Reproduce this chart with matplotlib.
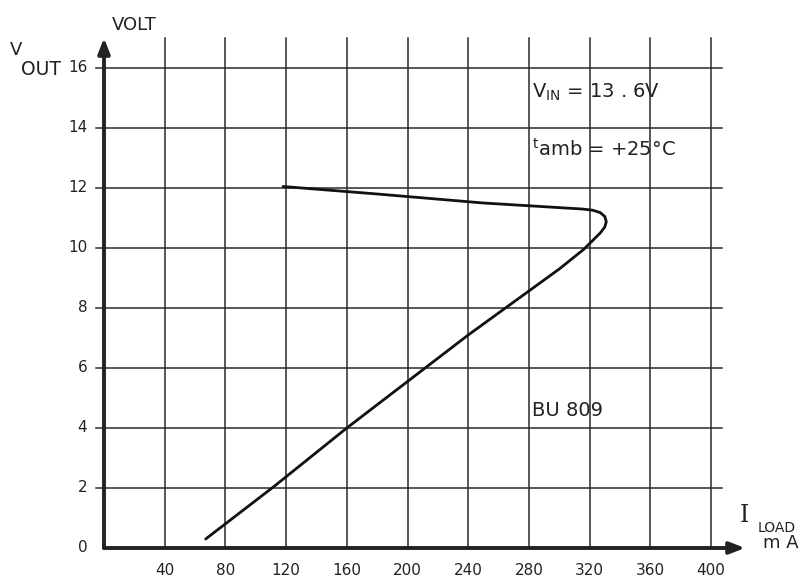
import matplotlib.pyplot as plt
import numpy as np

# load current (mA) and output voltage (V)
i_load = [67, 112, 160, 240, 300, 316, 322, 327, 330, 331, 330, 327, 322, 315, 250, 180, 118]
v_out = [0.3, 2.05, 4.0, 7.1, 9.3, 9.95, 10.25, 10.5, 10.7, 10.88, 11.05, 11.18, 11.26, 11.3, 11.5, 11.8, 12.05]

x_ticks = [40, 80, 120, 160, 200, 240, 280, 320, 360, 400]
y_ticks = [0, 2, 4, 6, 8, 10, 12, 14, 16]

plt.rcParams['font.family'] = ['DejaVu Sans']
fig = plt.figure(figsize=(8.12, 5.84), dpi=100)
W, H = 812, 584
ax = fig.add_axes([104 / W, (H - 548) / H, (745 - 104) / W, (548 - 38) / H])
ax.set_xlim(0, 422.4)
ax.set_ylim(0, 17.0)
ax.axis('off')

grid_c = '#2a2a2a'
for x in x_ticks:
    ax.plot([x, x], [0, 17.0], color=grid_c, lw=1.1, clip_on=False)
    ax.text(x, -0.75, str(x), ha='center', va='center', fontsize=11, color='#222')
for y in y_ticks[1:]:
    ax.plot([-5.5, 407], [y, y], color=grid_c, lw=1.1, clip_on=False)
for y in y_ticks:
    ax.text(-11, y, str(y), ha='right', va='center', fontsize=11, color='#222')

# axes with arrows
ax.annotate('', xy=(422.4, 0), xytext=(0, 0),
            arrowprops=dict(arrowstyle='-|>,head_length=0.9,head_width=0.35',
                            color='#222', lw=2.8, shrinkA=0, shrinkB=0),
            annotation_clip=False)
ax.annotate('', xy=(0, 17.0), xytext=(0, 0),
            arrowprops=dict(arrowstyle='-|>,head_length=0.9,head_width=0.35',
                            color='#222', lw=2.8, shrinkA=0, shrinkB=0),
            annotation_clip=False)

ax.plot(i_load, v_out, color='#111', lw=2.0, solid_capstyle='round', solid_joinstyle='round')

ax.text(5, 17.45, 'VOLT', fontsize=13, ha='left', va='center', color='#222')
ax.text(-58, 16.6, 'V', fontsize=13, ha='center', va='center', color='#222')
ax.text(-55, 15.95, 'OUT', fontsize=13.5, ha='left', va='center', color='#222')
ax.text(282, 15.2, r'V$_{\mathregular{IN}}$ = 13 . 6V', fontsize=14, ha='left', va='center', color='#222')
ax.text(282, 13.3, r'$^{\mathregular{t}}$amb = +25$\degree$C', fontsize=14, ha='left', va='center', color='#222')
ax.text(282, 4.6, 'BU 809', fontsize=14, ha='left', va='center', color='#222')
ax.text(419, 1.1, 'I', fontsize=17, ha='left', va='center', color='#222', family='DejaVu Serif')
ax.text(431, 0.67, 'LOAD', fontsize=10, ha='left', va='center', color='#222')
ax.text(434, 0.15, 'm A', fontsize=13, ha='left', va='center', color='#222')

fig.savefig('out.png', dpi=100)
